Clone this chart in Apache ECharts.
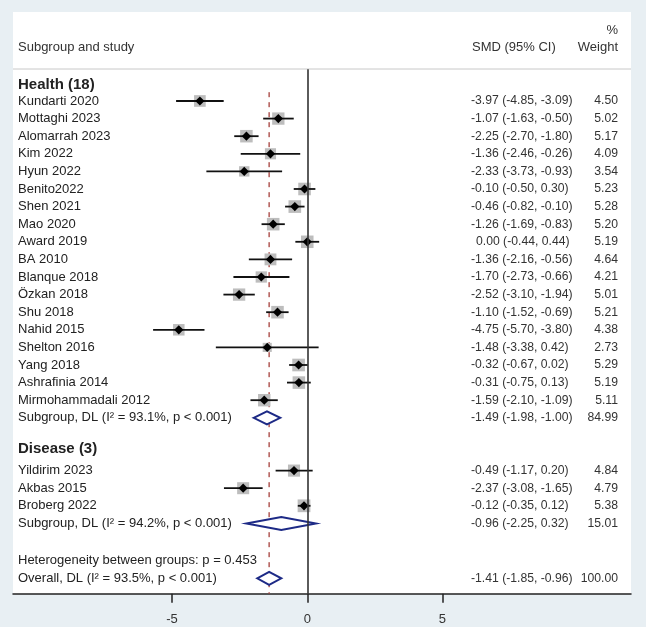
<!DOCTYPE html>
<html><head><meta charset="utf-8">
<script src="https://cdn.jsdelivr.net/npm/echarts@6/dist/echarts.min.js"></script>
<style>html,body{margin:0;padding:0;background:#e8eff3}#c{width:646px;height:627px}</style>
</head><body><div id="c"></div>
<script>
// ---- data ----
const healthStudies = ['Kundarti 2020','Mottaghi 2023','Alomarrah 2023','Kim 2022','Hyun 2022','Benito2022','Shen 2021','Mao 2020','Award 2019','BA 2010','Blanque 2018','Özkan 2018','Shu 2018','Nahid 2015','Shelton 2016','Yang 2018','Ashrafinia 2014','Mirmohammadali 2012'];
const healthEst  = [-3.97,-1.07,-2.25,-1.36,-2.33,-0.10,-0.46,-1.26,0.00,-1.36,-1.70,-2.52,-1.10,-4.75,-1.48,-0.32,-0.31,-1.59];
const healthLow  = [-4.85,-1.63,-2.70,-2.46,-3.73,-0.50,-0.82,-1.69,-0.44,-2.16,-2.73,-3.10,-1.52,-5.70,-3.38,-0.67,-0.75,-2.10];
const healthHigh = [-3.09,-0.50,-1.80,-0.26,-0.93,0.30,-0.10,-0.83,0.44,-0.56,-0.66,-1.94,-0.69,-3.80,0.42,0.02,0.13,-1.09];
const healthWeight = [4.50,5.02,5.17,4.09,3.54,5.23,5.28,5.20,5.19,4.64,4.21,5.01,5.21,4.38,2.73,5.29,5.19,5.11];

const diseaseStudies = ['Yildirim 2023','Akbas 2015','Broberg 2022'];
const diseaseEst  = [-0.49,-2.37,-0.12];
const diseaseLow  = [-1.17,-3.08,-0.35];
const diseaseHigh = [0.20,-1.65,0.12];
const diseaseWeight = [4.84,4.79,5.38];

const groupTitles = ['Health (18)','Disease (3)'];
const pooledLabels = ['Subgroup, DL (I² = 93.1%, p < 0.001)','Subgroup, DL (I² = 94.2%, p < 0.001)','Overall, DL (I² = 93.5%, p < 0.001)'];
const pooledEst  = [-1.49,-0.96,-1.41];
const pooledLow  = [-1.98,-2.25,-1.85];
const pooledHigh = [-1.00,0.32,-0.96];
const pooledWeight = [84.99,15.01,100.00];
const heterogeneityText = 'Heterogeneity between groups: p = 0.453';
const xTicks = [-5,0,5];

// ---- layout of rows ----
const fmt = v => v.toFixed(2);
const smdText = (e,l,h) => fmt(e)+' ('+fmt(l)+', '+fmt(h)+')';
const studyData = [], pooledData = [], textRows = [];
let row = 0;
textRows.push({row: 0.1, label: groupTitles[0], bold: true});
healthStudies.forEach((n,i)=>{
  row++;
  studyData.push([healthEst[i],healthLow[i],healthHigh[i],healthWeight[i],row]);
  textRows.push({row, label:n, smd:smdText(healthEst[i],healthLow[i],healthHigh[i]), pos:healthEst[i]>=0, w:fmt(healthWeight[i])});
});
row++;
pooledData.push([pooledEst[0],pooledLow[0],pooledHigh[0],row]);
textRows.push({row, label:pooledLabels[0], smd:smdText(pooledEst[0],pooledLow[0],pooledHigh[0]), w:fmt(pooledWeight[0])});
textRows.push({row: row+1.75, label: groupTitles[1], bold: true});
row += 2;
diseaseStudies.forEach((n,i)=>{
  row++;
  studyData.push([diseaseEst[i],diseaseLow[i],diseaseHigh[i],diseaseWeight[i],row]);
  textRows.push({row, label:n, smd:smdText(diseaseEst[i],diseaseLow[i],diseaseHigh[i]), w:fmt(diseaseWeight[i])});
});
row++;
pooledData.push([pooledEst[1],pooledLow[1],pooledHigh[1],row]);
textRows.push({row, label:pooledLabels[1], smd:smdText(pooledEst[1],pooledLow[1],pooledHigh[1]), w:fmt(pooledWeight[1])});
row += 2.12;
textRows.push({row, label: heterogeneityText});
row++;
pooledData.push([pooledEst[2],pooledLow[2],pooledHigh[2],row]);
textRows.push({row, label:pooledLabels[2], smd:smdText(pooledEst[2],pooledLow[2],pooledHigh[2]), w:fmt(pooledWeight[2])});

const FONT = '"Liberation Sans", Arial, sans-serif';
const TXT = '#333';

const chart = echarts.init(document.getElementById('c'), null, {renderer:'canvas'});
chart.setOption({
  backgroundColor: '#e8eff3',
  animation: false,
  graphic: [
    {type:'rect', z:-10, shape:{x:13,y:12,width:618,height:582}, style:{fill:'#fff'}},
    {type:'line', z:-5, shape:{x1:13,y1:69,x2:631,y2:69}, style:{stroke:'#c8c8c8',lineWidth:1}},
    {type:'text', style:{text:'%', x:618, y:30, textAlign:'right', textVerticalAlign:'middle', fill:TXT, font:'13px '+FONT}},
    {type:'text', style:{text:'Subgroup and study', x:18, y:47, textVerticalAlign:'middle', fill:TXT, font:'13px '+FONT}},
    {type:'text', style:{text:'SMD (95% CI)', x:472, y:47, textVerticalAlign:'middle', fill:TXT, font:'13px '+FONT}},
    {type:'text', style:{text:'Weight', x:618, y:47, textAlign:'right', textVerticalAlign:'middle', fill:TXT, font:'13px '+FONT}}
  ],
  grid: {left:13, right:15, top:69.3, bottom:33.2, containLabel:false},
  xAxis: {
    type:'value', min:-10.88, max:11.97,
    axisLine:{show:true, onZero:false, lineStyle:{color:'#222', width:1.5}},
    axisTick:{show:true, customValues:xTicks, length:9, lineStyle:{color:'#222', width:1.5}},
    axisLabel:{show:true, customValues:xTicks, color:TXT, fontSize:13, fontFamily:FONT, margin:19},
    splitLine:{show:false}
  },
  yAxis: {type:'value', min:-0.8, max:29, inverse:true, show:false},
  series: [
    {
      type:'line', data:[], silent:true,
      markLine:{symbol:'none', silent:true, label:{show:false},
        data:[{xAxis:0, lineStyle:{color:'#333', width:1.6, type:'solid'}}]}
    },
    {
      type:'line', silent:true, symbol:'none', z:1,
      data:[[pooledEst[2],0.5],[pooledEst[2],29]],
      lineStyle:{color:'#a5403c', width:1.3, type:[5,5]}
    },
    {
      type:'custom', z:3, data: studyData,
      renderItem: (params, api) => {
        const est=api.value(0), lo=api.value(1), hi=api.value(2), w=api.value(3), r=api.value(4);
        const c=api.coord([est,r]), l=api.coord([lo,r]), h=api.coord([hi,r]);
        const s=5.5*Math.sqrt(w), d=4.6;
        return {type:'group', children:[
          {type:'rect', shape:{x:c[0]-s/2,y:c[1]-s/2,width:s,height:s}, style:{fill:'#bdbdbd'}},
          {type:'line', shape:{x1:l[0],y1:l[1],x2:h[0],y2:h[1]}, style:{stroke:'#111',lineWidth:1.8}},
          {type:'polygon', shape:{points:[[c[0]-d,c[1]],[c[0],c[1]-d],[c[0]+d,c[1]],[c[0],c[1]+d]]}, style:{fill:'#000'}}
        ]};
      }
    },
    {
      type:'custom', z:4, data: pooledData,
      renderItem: (params, api) => {
        const est=api.value(0), lo=api.value(1), hi=api.value(2), r=api.value(3);
        const c=api.coord([est,r]), l=api.coord([lo,r]), h=api.coord([hi,r]);
        const hh=6.5;
        return {type:'polygon', shape:{points:[[l[0],c[1]],[c[0],c[1]-hh],[h[0],c[1]],[c[0],c[1]+hh]]},
          style:{fill:'#fff', stroke:'#1d2a86', lineWidth:2}};
      }
    },
    {
      type:'custom', z:5, data: textRows.map(t=>[0,t.row]),
      renderItem: (params, api) => {
        const t = textRows[params.dataIndex];
        const y = api.coord([0, api.value(1)])[1];
        const ch = [{type:'text', style:{text:t.label, x:18, y:y, textVerticalAlign:'middle', fill:'#222',
          font:(t.bold?'bold 15px ':'13px ')+FONT}}];
        if (t.smd) ch.push({type:'text', style:{text:t.smd, x:t.pos?476:471, y:y, textVerticalAlign:'middle', fill:TXT, font:'12.2px '+FONT}});
        if (t.w) ch.push({type:'text', style:{text:t.w, x:618, y:y, textAlign:'right', textVerticalAlign:'middle', fill:TXT, font:'12.2px '+FONT}});
        return {type:'group', children:ch};
      }
    }
  ]
});
</script></body></html>
